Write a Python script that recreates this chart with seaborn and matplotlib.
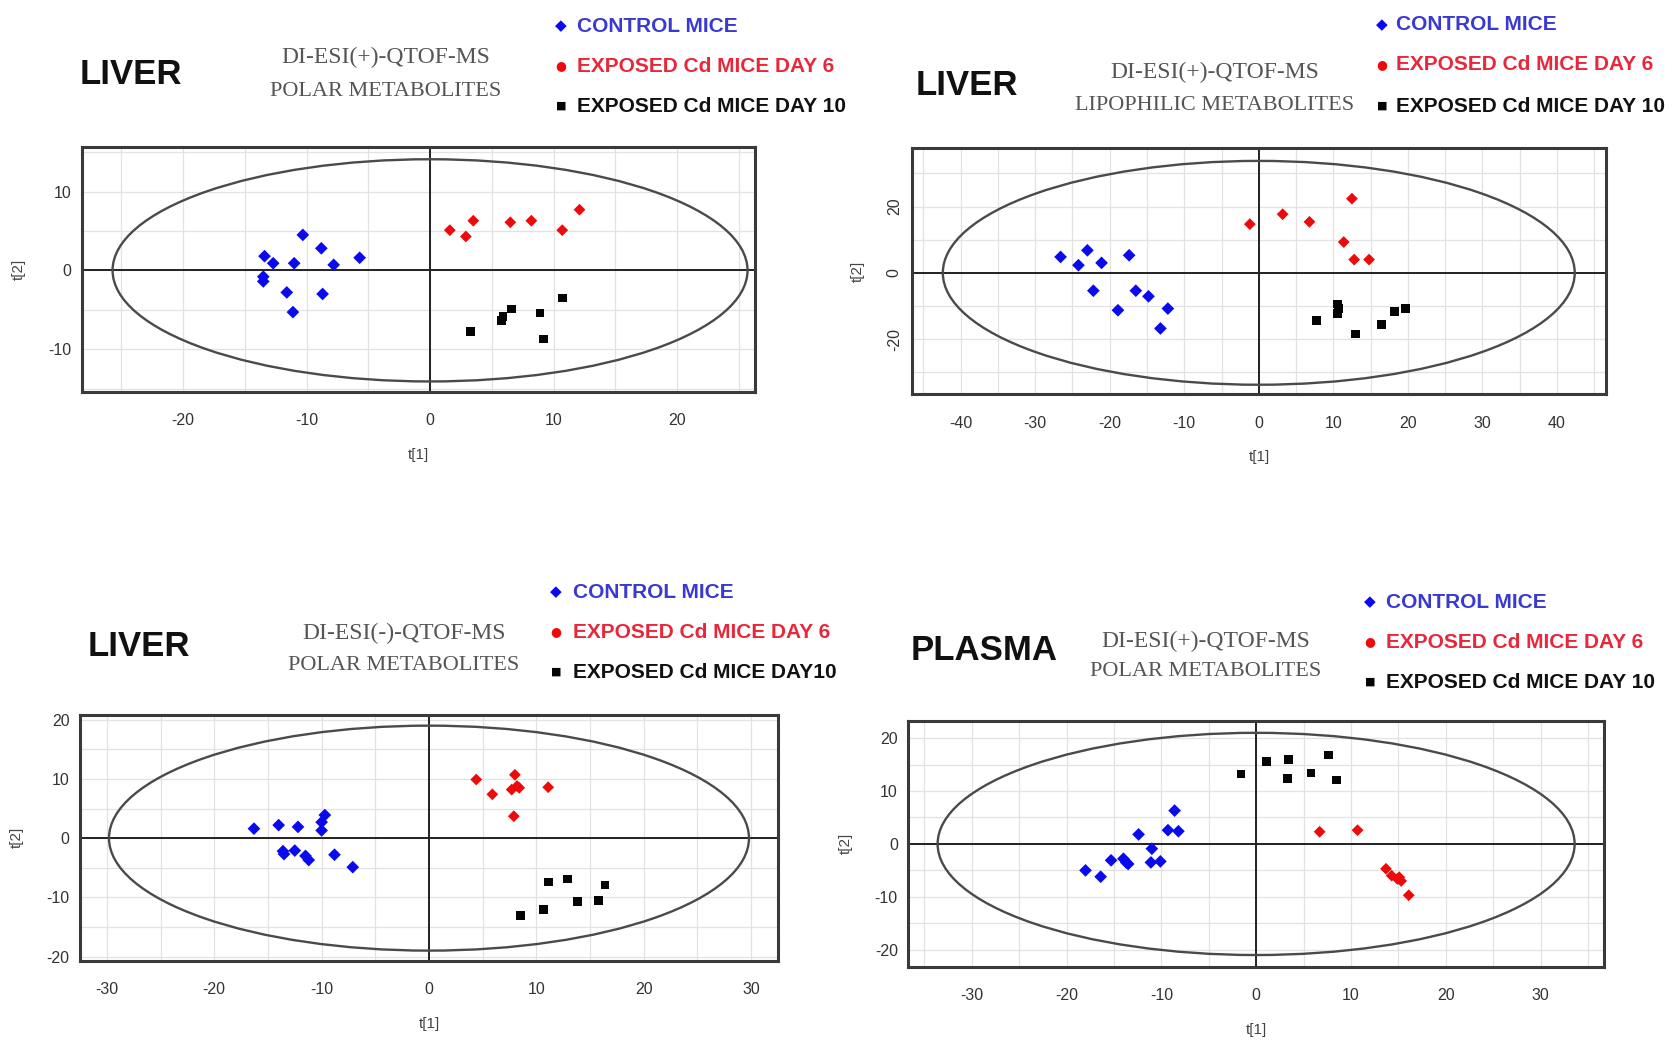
import matplotlib
matplotlib.use("Agg")
import numpy as np
import pandas as pd
import seaborn as sns
import matplotlib.pyplot as plt
from matplotlib.patches import Ellipse
from matplotlib.ticker import MultipleLocator

# ---- scores ----
# panel 1: liver, DI-ESI(+), polar
p1_ctrl_t1 = [-13.4, -12.7, -11.0, -10.3, -8.8, -7.8, -5.7, -13.5, -13.5, -11.6, -8.7, -11.1]
p1_ctrl_t2 = [1.8, 0.9, 0.9, 4.5, 2.8, 0.7, 1.6, -0.8, -1.4, -2.8, -3.0, -5.3]
p1_d6_t1 = [1.6, 2.9, 3.5, 6.5, 8.2, 10.7, 12.1]
p1_d6_t2 = [5.1, 4.3, 6.3, 6.1, 6.3, 5.1, 7.7]
p1_d10_t1 = [3.3, 5.8, 5.9, 6.6, 8.9, 9.2, 10.7]
p1_d10_t2 = [-7.8, -6.4, -5.9, -4.9, -5.4, -8.7, -3.5]

# panel 2: liver, DI-ESI(+), lipophilic
p2_ctrl_t1 = [-26.6, -24.2, -23.0, -21.1, -17.4, -22.2, -16.5, -14.8, -18.9, -12.2, -13.2]
p2_ctrl_t2 = [4.8, 2.3, 6.8, 3.0, 5.3, -5.4, -5.4, -7.1, -11.3, -10.8, -16.8]
p2_d6_t1 = [-1.2, 3.2, 6.8, 12.5, 11.4, 12.8, 14.8]
p2_d6_t2 = [14.7, 17.7, 15.4, 22.4, 9.3, 4.0, 4.0]
p2_d10_t1 = [7.7, 10.6, 10.7, 10.6, 13.0, 16.5, 18.2, 19.7]
p2_d10_t2 = [-14.3, -9.4, -10.8, -12.3, -18.5, -15.5, -11.8, -10.8]

# panel 3: liver, DI-ESI(-), polar
p3_ctrl_t1 = [-16.3, -14.0, -12.2, -9.7, -10.0, -10.0, -13.6, -13.5, -12.5, -11.5, -11.2, -8.8, -7.1]
p3_ctrl_t2 = [1.6, 2.2, 1.9, 3.9, 2.7, 1.3, -2.2, -2.7, -2.1, -3.0, -3.7, -2.8, -4.9]
p3_d6_t1 = [4.4, 5.9, 8.0, 7.7, 8.2, 8.4, 7.9, 11.1]
p3_d6_t2 = [9.9, 7.4, 10.7, 8.2, 8.8, 8.5, 3.7, 8.6]
p3_d10_t1 = [8.5, 10.7, 11.1, 12.9, 13.8, 15.8, 16.4]
p3_d10_t2 = [-13.1, -12.1, -7.4, -6.9, -10.7, -10.5, -7.9]

# panel 4: plasma, DI-ESI(+), polar
p4_ctrl_t1 = [-18.0, -16.4, -15.3, -14.0, -13.7, -13.5, -12.4, -11.0, -11.1, -10.1, -9.3, -8.6, -8.2]
p4_ctrl_t2 = [-5.0, -6.2, -3.1, -2.8, -3.5, -3.8, 1.8, -0.9, -3.5, -3.3, 2.6, 6.3, 2.4]
p4_d6_t1 = [6.7, 10.7, 13.7, 14.3, 14.9, 15.3, 15.1, 16.1]
p4_d6_t2 = [2.3, 2.6, -4.7, -6.0, -6.6, -7.0, -6.3, -9.7]
p4_d10_t1 = [-1.6, 1.1, 3.4, 3.3, 5.8, 7.6, 8.5]
p4_d10_t2 = [13.2, 15.6, 15.9, 12.3, 13.4, 16.8, 12.1]

# Hotelling T2 ellipse semi-axes (t1, t2)
ellipse_axes = [(25.7, 14.1), (42.4, 33.8), (29.8, 19.0), (33.6, 21.0)]

groups = ["CONTROL MICE", "EXPOSED Cd MICE DAY 6", "EXPOSED Cd MICE DAY 10"]
legend_labels = [
    groups,
    groups,
    ["CONTROL MICE", "EXPOSED Cd MICE DAY 6", "EXPOSED Cd MICE DAY10"],
    groups,
]
palette = {groups[0]: "#0a0aee", groups[1]: "#ee0a0a", groups[2]: "#050505"}
markers = {groups[0]: "D", groups[1]: "D", groups[2]: "s"}
sizes = {groups[0]: 42, groups[1]: 36, groups[2]: 40}
text_colors = ["#3a3ad0", "#e8283a", "#111111"]

W, H = 1681, 1049
sns.set_style("white")
plt.rcParams["font.family"] = ["Liberation Sans", "DejaVu Sans"]
plt.rcParams["axes.unicode_minus"] = False

fig = plt.figure(figsize=(W / 100, H / 100), dpi=100)


def make_df(ct1, ct2, at1, at2, bt1, bt2):
    parts = []
    for g, t1, t2 in zip(groups, [ct1, at1, bt1], [ct2, at2, bt2]):
        parts.append(pd.DataFrame({"t1": t1, "t2": t2, "group": g}))
    return pd.concat(parts, ignore_index=True)


def draw_panel(rect, df, ell, xlim, ylim, ymajor, yminor, yrot=0):
    ax = fig.add_axes(rect)
    ax.set_xlim(*xlim)
    ax.set_ylim(*ylim)
    ax.xaxis.set_major_locator(MultipleLocator(10))
    ax.xaxis.set_minor_locator(MultipleLocator(5))
    ax.yaxis.set_major_locator(MultipleLocator(ymajor))
    ax.yaxis.set_minor_locator(MultipleLocator(yminor))
    ax.grid(True, which="both", color="#e2e2e2", lw=0.9)
    ax.set_axisbelow(True)
    ax.axhline(0, color="#222222", lw=1.4, zorder=1)
    ax.axvline(0, color="#222222", lw=1.4, zorder=1)
    ax.add_patch(Ellipse((0, 0), 2 * ell[0], 2 * ell[1], fill=False,
                         edgecolor="#4a4a4a", lw=1.7, zorder=2))
    sns.scatterplot(data=df, x="t1", y="t2", hue="group", style="group",
                    size="group", palette=palette, markers=markers, sizes=sizes,
                    edgecolor="none", legend=False, ax=ax, zorder=3)
    for s in ax.spines.values():
        s.set_linewidth(2.2)
        s.set_color("#3a3a3a")
    ax.tick_params(axis="both", which="both", direction="inout", length=5,
                   width=1.4, color="#333333", labelsize=11.5, labelcolor="#333333")
    ax.tick_params(axis="x", pad=13)
    ax.tick_params(axis="y", pad=5)
    if yrot:
        plt.setp(ax.get_yticklabels(), rotation=yrot, va="center")
    ax.set_xlabel("t[1]", fontsize=11, color="#444444", labelpad=14)
    ax.set_ylabel("t[2]", fontsize=11, color="#444444", labelpad=16)
    return ax


def px(x, y):
    return x / W, 1 - y / H


def header(title, tx, ty, sub1, sub2, sx, sy1, sy2, mx, lx, lys, labels):
    fig.text(*px(tx, ty), title, fontsize=25, fontweight="bold", color="#111111",
             ha="left", va="center")
    fig.text(*px(sx, sy1), sub1, fontsize=17, color="#555555",
             family="Liberation Serif", ha="center", va="center")
    fig.text(*px(sx, sy2), sub2, fontsize=16, color="#555555",
             family="Liberation Serif", ha="center", va="center")
    glyphs = ["\u25c6", "\u25cf", "\u25a0"]
    gsize = [11, 9, 8]
    for g, c, ly, gl, gs, lab in zip(groups, text_colors, lys, glyphs, gsize, labels):
        fig.text(*px(mx, ly), gl, fontsize=gs, color=palette[g],
                 family="DejaVu Sans", ha="center", va="center")
        fig.text(*px(lx, ly), lab, fontsize=15, fontweight="bold", color=c,
                 ha="left", va="center")


df1 = make_df(p1_ctrl_t1, p1_ctrl_t2, p1_d6_t1, p1_d6_t2, p1_d10_t1, p1_d10_t2)
df2 = make_df(p2_ctrl_t1, p2_ctrl_t2, p2_d6_t1, p2_d6_t2, p2_d10_t1, p2_d10_t2)
df3 = make_df(p3_ctrl_t1, p3_ctrl_t2, p3_d6_t1, p3_d6_t2, p3_d10_t1, p3_d10_t2)
df4 = make_df(p4_ctrl_t1, p4_ctrl_t2, p4_d6_t1, p4_d6_t2, p4_d10_t1, p4_d10_t2)

draw_panel([0.0486, 0.6266, 0.4005, 0.2336], df1, ellipse_axes[0],
           (-28.2, 26.3), (-15.4, 15.7), 10, 5)
draw_panel([0.5427, 0.6244, 0.4127, 0.2342], df2, ellipse_axes[1],
           (-46.5, 46.6), (-36.6, 37.6), 20, 10, yrot=90)
draw_panel([0.0476, 0.0842, 0.4152, 0.2342], df3, ellipse_axes[2],
           (-32.5, 32.5), (-20.7, 20.8), 10, 5)
draw_panel([0.5403, 0.0785, 0.4139, 0.2345], df4, ellipse_axes[3],
           (-36.7, 36.7), (-23.2, 23.3), 10, 5)

header("LIVER", 80, 75, "DI-ESI(+)-QTOF-MS", "POLAR METABOLITES", 386, 57, 91,
       561, 577, [26, 66, 106], legend_labels[0])
header("LIVER", 916, 86, "DI-ESI(+)-QTOF-MS", "LIPOPHILIC METABOLITES", 1215, 72, 105,
       1382, 1396, [25, 65, 106], legend_labels[1])
header("LIVER", 88, 646, "DI-ESI(-)-QTOF-MS", "POLAR METABOLITES", 404, 633, 665,
       556, 573, [592, 632, 672], legend_labels[2])
header("PLASMA", 911, 651, "DI-ESI(+)-QTOF-MS", "POLAR METABOLITES", 1206, 641, 672,
       1370, 1386, [602, 642, 682], legend_labels[3])

fig.savefig("out.png", dpi=100)
